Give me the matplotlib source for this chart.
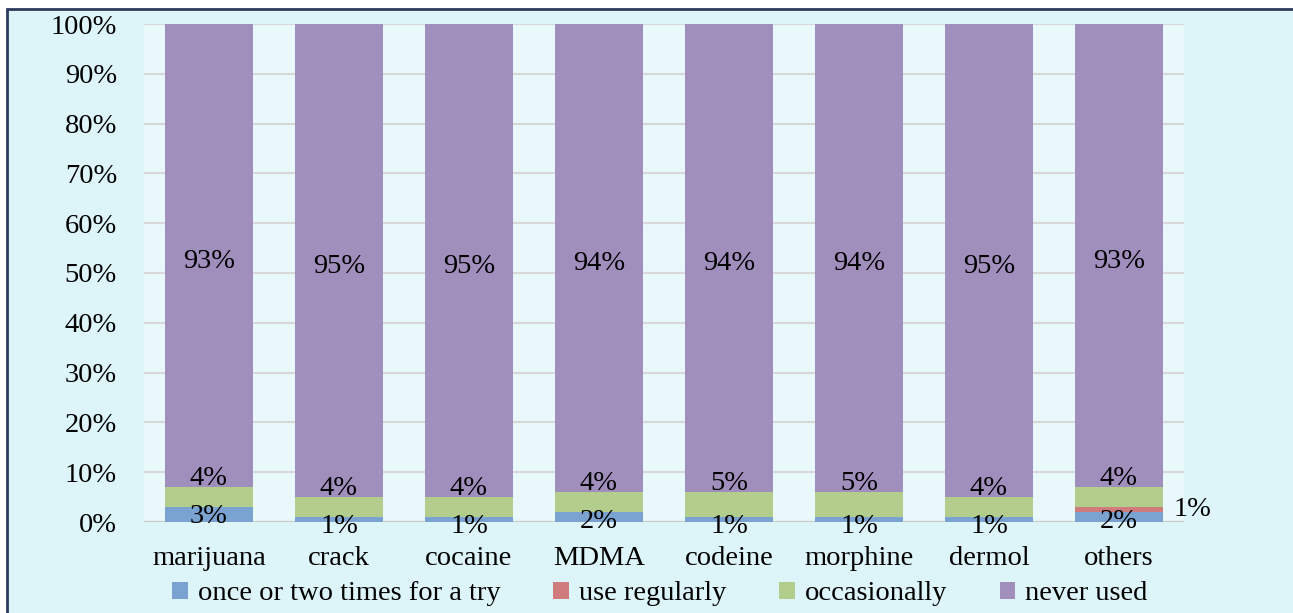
import matplotlib
matplotlib.use("Agg")
import matplotlib.pyplot as plt
from matplotlib.patches import Rectangle, Patch
from matplotlib.ticker import PercentFormatter
import numpy as np

categories = ["marijuana", "crack", "cocaine", "MDMA", "codeine", "morphine", "dermol", "others"]
once = [3, 1, 1, 2, 1, 1, 1, 2]
regularly = [0, 0, 0, 0, 0, 0, 0, 1]
occasionally = [4, 4, 4, 4, 5, 5, 4, 4]
never = [93, 95, 95, 94, 94, 94, 95, 93]
series_names = ["once or two times for a try", "use regularly", "occasionally", "never used"]
colors = ["#7BA3D2", "#D07C7C", "#B3CE8C", "#A08FBD"]

plt.rcParams['font.family'] = ['Liberation Serif', 'DejaVu Serif']
fs = 20.5

fig = plt.figure(figsize=(12.93, 6.13), dpi=100)
fig.patch.set_facecolor("white")
fig.patches.append(Rectangle((7/1293, -0.05), 1.1, (613-9)/613 + 0.05, transform=fig.transFigure,
                             facecolor="#DDF4F8", edgecolor="#2E3A5C", linewidth=2, zorder=-5))

ax = fig.add_axes([144/1293, 91/613, (1184-144)/1293, (522-24)/613])
ax.set_facecolor("#E8F8FB")
x = np.arange(len(categories))
w = 0.67
data = [once, regularly, occasionally, never]
bottom = np.zeros(len(categories))
for vals, c in zip(data, colors):
    ax.bar(x, vals, w, bottom=bottom, color=c, zorder=3)
    bottom += np.array(vals)

ax.set_xlim(-0.5, len(categories) - 0.5)
ax.set_ylim(0, 100)
ax.set_yticks(np.arange(0, 101, 10))
ax.yaxis.set_major_formatter(PercentFormatter(decimals=0))
ax.grid(axis='y', color="#D8D8D8", linewidth=1.5, zorder=1)
ax.set_axisbelow(True)
for s in ax.spines.values():
    s.set_visible(False)
ax.tick_params(axis='both', length=0, labelsize=fs)
ax.tick_params(axis='y', pad=19.5)
ax.tick_params(axis='x', pad=17)
ax.set_xticks(x)
ax.set_xticklabels(categories)
ax.axhline(0, color="#C8C8C8", linewidth=1.5, zorder=2)

once_a = np.array(once); reg_a = np.array(regularly); occ_a = np.array(occasionally); nev_a = np.array(never)
for i in range(len(categories)):
    top_once = once_a[i]
    ax.annotate(f"{once[i]}%", (x[i], top_once), xytext=(0, 2), textcoords="offset points",
                ha='center', va='top', fontsize=fs, zorder=5)
    top_occ = once_a[i] + reg_a[i] + occ_a[i]
    ax.annotate(f"{occasionally[i]}%", (x[i], top_occ), xytext=(0, -3), textcoords="offset points",
                ha='center', va='bottom', fontsize=fs, zorder=5)
    mid_nev = top_occ + nev_a[i] / 2
    ax.annotate(f"{never[i]}%", (x[i], mid_nev), xytext=(0, -4), textcoords="offset points",
                ha='center', va='center', fontsize=fs, zorder=5)
    if regularly[i] > 0:
        mid_reg = once_a[i] + reg_a[i] / 2
        ax.annotate(f"{regularly[i]}%", (x[i] + w / 2, mid_reg), xytext=(8, 0), textcoords="offset points",
                    ha='left', va='center', fontsize=fs, zorder=5, annotation_clip=False)

handles = [Patch(facecolor=c, edgecolor='none') for c in colors]
fig.legend(handles, series_names, loc='center', bbox_to_anchor=(660/1293, 1 - 594/613), ncol=4,
           frameon=False, fontsize=fs, handlelength=0.55, handleheight=0.55, handletextpad=0.35,
           columnspacing=1.85)

fig.savefig("out.png", dpi=100)
